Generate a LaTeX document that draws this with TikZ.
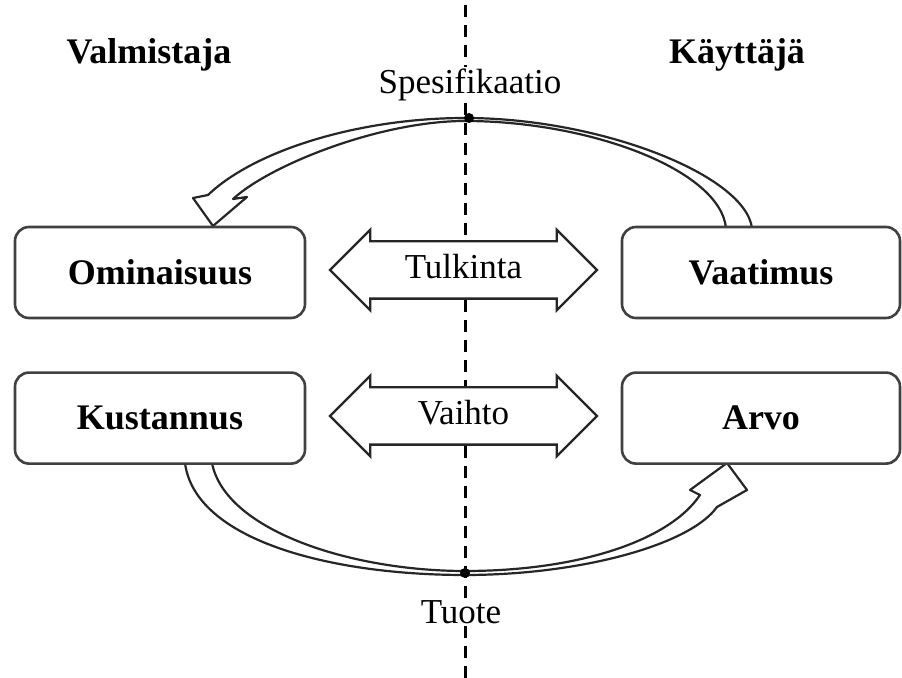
\documentclass[tikz,border=0pt]{standalone}
\usepackage{fontspec}
\setmainfont{Liberation Serif}
\usetikzlibrary{arrows.meta, positioning, shapes.arrows}

\begin{document}
\begin{tikzpicture}[
    x=0.5pt, y=-0.5pt,
    box/.style={rectangle, rounded corners=7pt, draw=black!75, fill=white, line width=1.3pt, minimum height=45.5pt, inner sep=0pt, font=\fontsize{18}{21}\selectfont\bfseries},
    side/.style={font=\fontsize{18}{21}\selectfont\bfseries},
    caption/.style={fill=white, inner sep=1pt, font=\fontsize{17.5}{21}\selectfont},
    trade/.style={double arrow, draw=black!85, fill=white, line width=1.2pt, double arrow head extend=5.75pt, minimum height=133.5pt, text height=12pt, text depth=3pt, inner ysep=6.25pt, inner xsep=2pt, font=\fontsize{17.5}{21}\selectfont},
    band/.style={draw=black!85, fill=white, line width=1.1pt, line join=round},
    divider/.style={line width=1.5pt, dash pattern=on 6pt off 4pt}
  ]
  \useasboundingbox (0,0) rectangle (902,678);

  \coordinate (ltop) at (465,5);
  \coordinate (lbot) at (465,678);
  \coordinate (spec) at (469,118);
  \coordinate (prod) at (465,573);

  % specification loop (top)
  \draw[band] (726,228) .. controls (720,170) and (590,121) .. (465,121)
    .. controls (380,121) and (270,165) .. (233,199)
    -- (247,197) -- (213,226) -- (193,198) -- (208,195)
    .. controls (255,150) and (360,118) .. (465,118)
    .. controls (600,118) and (745,175) .. (752,228);

  % product loop (bottom)
  \draw[band] (212,463) .. controls (225,530) and (350,571) .. (465,571)
    .. controls (580,571) and (670,540) .. (700,495)
    -- (690,490) -- (727,463) -- (747,490) -- (717,507)
    .. controls (690,545) and (580,575) .. (465,575)
    .. controls (330,575) and (195,540) .. (185,463);

  \node[box, minimum width=145pt] (omin) at (160,272.5) {Ominaisuus};
  \node[box, minimum width=145pt, below=26pt of omin] (kust) {Kustannus};
  \node[box, minimum width=139pt] (vaat) at (761,272.5) {Vaatimus};
  \node[box, minimum width=139pt, below=26pt of vaat] (arvo) {Arvo};

  \node[trade] (tulk) at (463.5,270) {Tulkinta};
  \node[trade] (vaih) at (463.5,416) {Vaihto};

  \node[side] (valm) at (149,55) {Valmistaja};
  \node[side] (kayt) at (737,55) {Käyttäjä};
  \node[caption] (spes) at (470,85) {Spesifikaatio};
  \node[caption] (tuote) at (461,612) {Tuote};

  % dividing line between maker and user
  \draw[divider] (ltop) -- (ltop |- spes.north)
    (ltop |- spes.south) -- (ltop |- tulk.north)
    (ltop |- tulk.south) -- (ltop |- vaih.north)
    (ltop |- vaih.south) -- (ltop |- tuote.north)
    (ltop |- tuote.south) -- (lbot);

  \fill (spec) circle (2.5pt);
  \fill (prod) circle (2.5pt);
\end{tikzpicture}
\end{document}
